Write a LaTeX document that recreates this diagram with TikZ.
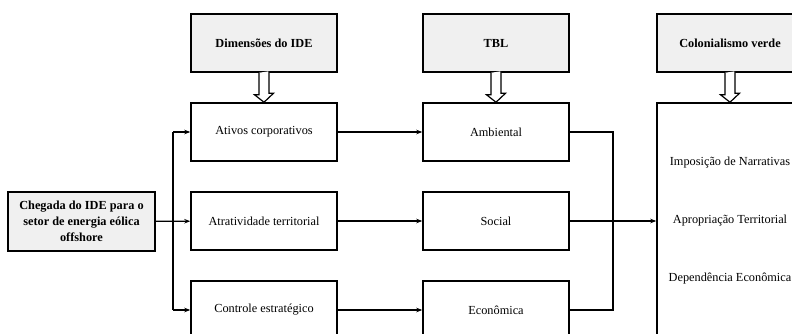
\documentclass[tikz,border=0pt]{standalone}
\usepackage{fontspec}
\setmainfont{Liberation Serif}
\usetikzlibrary{positioning,arrows.meta}

\begin{document}
\begin{tikzpicture}[x=1pt, y=-1pt,
  box/.style={draw, line width=1.5pt, minimum width=146pt, minimum height=58pt,
              align=center, inner sep=2pt, font=\fontsize{12.3}{16}\selectfont},
  hdr/.style={box, fill=gray!12, font=\fontsize{12.3}{16}\selectfont\bfseries},
  arr/.style={-{Stealth[length=6pt, width=4.5pt]}, line width=1.2pt},
  lin/.style={line width=1.2pt},
  hollow/.style={line width=1.2pt, fill=white, line join=miter},
  txt/.style={font=\fontsize{12.3}{16}\selectfont, inner sep=0pt},
]
  \useasboundingbox (0,0) rectangle (792,334);
  \clip (0,0) rectangle (792,334);

  \node[hdr] (dim) at (264,43)  {Dimensões do IDE};
  \node[hdr] (tbl) at (496,43)  {TBL};
  \node[hdr] (col) at (730,43)  {Colonialismo verde};

  \node[hdr, minimum width=147pt, minimum height=59pt] (ide) at (81.5,221.5)
    {Chegada do IDE para o\\setor de energia eólica\\offshore};

  \node[box] (ativ) at (264,132) {Ativos corporativos};
  \node[box] (atra) at (264,221) {Atratividade territorial};
  \node[box] (ctrl) at (264,310) {Controle estratégico};

  \node[box] (amb) at (496,132) {Ambiental};
  \node[box] (soc) at (496,221) {Social};
  \node[box] (eco) at (496,310) {Econômica};

  \node[box, minimum height=274pt] (cv) at (730,240) {};
  \node[txt] (imp) at (730,163) {Imposição de Narrativas};
  \node[txt] (apr) at (730,221) {Apropriação Territorial};
  \node[txt] (dep) at (730,279) {Dependência Econômica};

  \foreach \h/\b in {dim/ativ, tbl/amb, col/cv}
    \draw[hollow] (\h.south) ++(-5,0) -- ++(0,22) -- ++(-4.5,0) -- (\b.north)
      -- ++(9.5,-9) -- ++(-4.5,0) -- ++(0,-22);

  \coordinate (split) at (173,221);
  \coordinate (join)  at (613,221);

  \draw[arr] (ide) -- (atra);
  \draw[lin] (split |- ativ) -- (split |- ctrl);
  \draw[arr] (split |- ativ) -- (ativ);
  \draw[arr] (split |- ctrl) -- (ctrl);

  \draw[arr] (ativ) -- (amb);
  \draw[arr] (atra) -- (soc);
  \draw[arr] (ctrl) -- (eco);

  \draw[lin] (amb.east) -| (join);
  \draw[lin] (eco.east) -| (join);
  \draw[arr] (soc.east) -- (cv.west |- soc);
\end{tikzpicture}
\end{document}
